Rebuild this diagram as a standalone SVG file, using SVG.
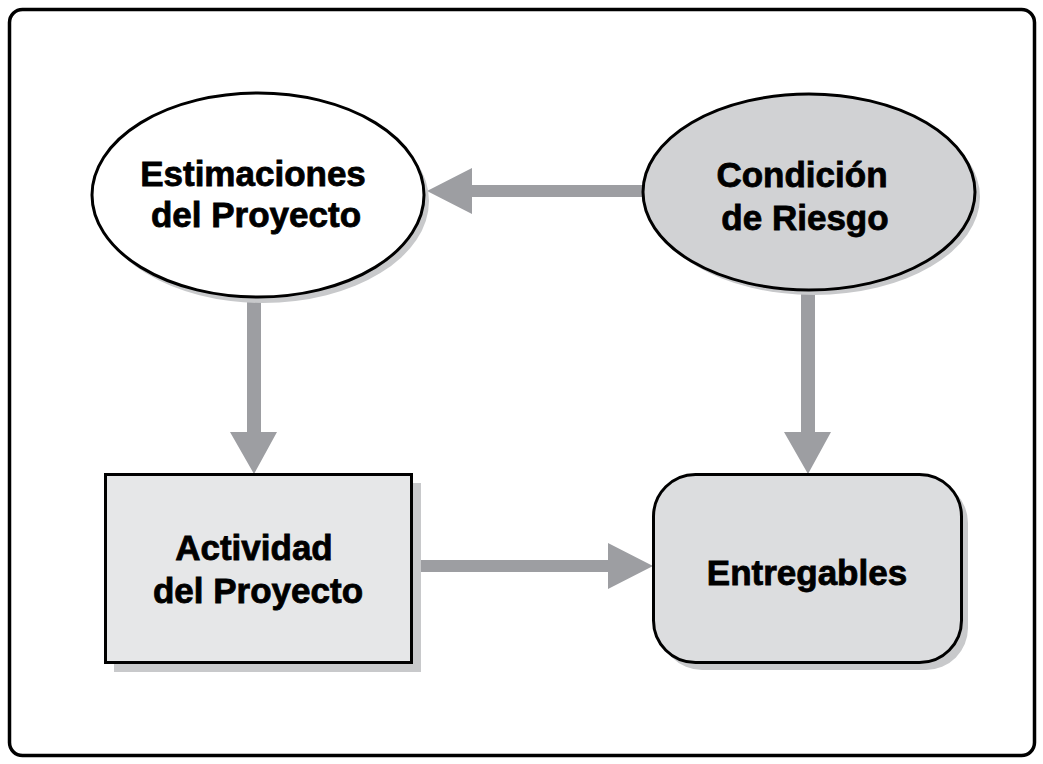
<svg xmlns="http://www.w3.org/2000/svg" width="1043" height="764" viewBox="0 0 1043 764">
  <style>
    .lbl { font-family: "Liberation Sans", Arial, sans-serif; font-weight: bold; font-size: 35px; fill: #000; stroke: #000; stroke-width: 0.8; text-anchor: middle; }
    .shadow { fill: #c8c9cb; stroke: none; }
    .node { stroke: #000; stroke-width: 3; }
    .conn { fill: #9d9ea2; stroke: none; }
  </style>
  <rect x="0" y="0" width="1043" height="764" fill="#fff"/>
  <rect id="frame" x="9.5" y="9.5" width="1025" height="746" rx="13" ry="13" fill="none" stroke="#000" stroke-width="3.5"/>

  <g id="connectors">
    <!-- Condición -> Estimaciones -->
    <polygon class="conn" points="643,185 472,185 472,168 427,191 472,214 472,197 643,197"/>
    <!-- Estimaciones -> Actividad -->
    <polygon class="conn" points="247,298 247,432 230,432 254,474 277,432 261,432 261,298"/>
    <!-- Condición -> Entregables -->
    <polygon class="conn" points="801,290 801,432 784,432 808,474 831,432 815,432 815,290"/>
    <!-- Actividad -> Entregables -->
    <polygon class="conn" points="412,560 608,560 608,543 653,566 608,589 608,572 412,572"/>
  </g>

  <g id="node-estimaciones">
    <ellipse class="shadow" cx="263" cy="201" rx="166" ry="102"/>
    <ellipse class="node" cx="258" cy="195" rx="166" ry="102" fill="#fff"/>
    <text class="lbl" x="253" y="186">Estimaciones</text>
    <text class="lbl" x="256" y="227">del Proyecto</text>
  </g>

  <g id="node-condicion">
    <ellipse class="shadow" cx="814" cy="197" rx="166" ry="98"/>
    <ellipse class="node" cx="809" cy="192" rx="166" ry="98" fill="#d1d2d4"/>
    <text class="lbl" x="802" y="187">Condición</text>
    <text class="lbl" x="805" y="230">de Riesgo</text>
  </g>

  <g id="node-actividad">
    <rect class="shadow" x="114" y="483" width="307" height="189"/>
    <rect class="node" x="105.5" y="474.5" width="306" height="188" fill="#e6e7e8"/>
    <text class="lbl" x="254" y="560">Actividad</text>
    <text class="lbl" x="258" y="603">del Proyecto</text>
  </g>

  <g id="node-entregables">
    <rect class="shadow" x="660" y="481" width="308" height="189" rx="42" ry="42"/>
    <rect class="node" x="653.5" y="474.5" width="308" height="188" rx="42" ry="42" fill="#dcdddf"/>
    <text class="lbl" x="807" y="585">Entregables</text>
  </g>
</svg>
